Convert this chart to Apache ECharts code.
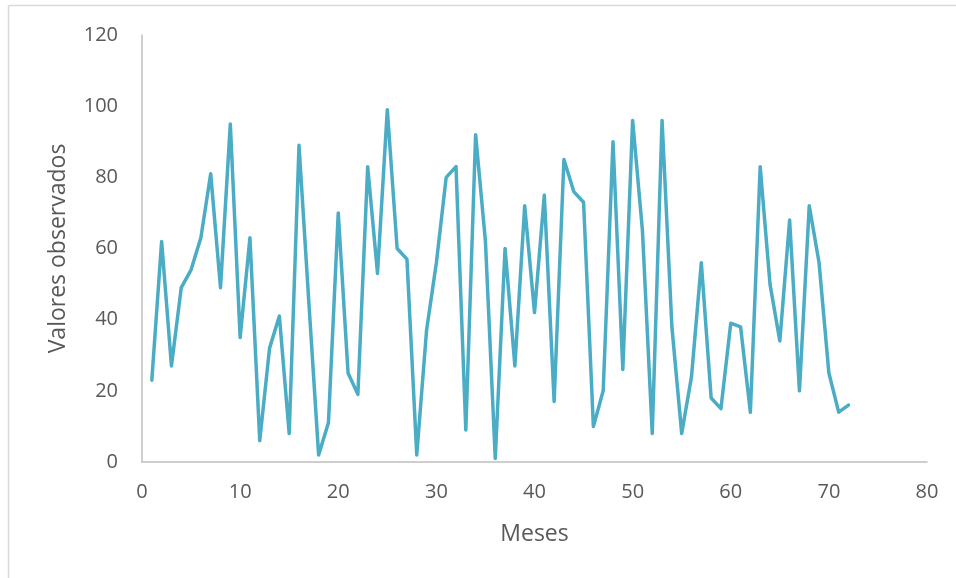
<!DOCTYPE html>
<html>
<head>
<meta charset="utf-8">
<script src="https://cdn.jsdelivr.net/npm/echarts@6/dist/echarts.min.js"></script>
<style>html,body{margin:0;padding:0;background:#fff}#c{width:956px;height:578px}</style>
</head>
<body>
<div id="c"></div>
<script>
var months = [1,2,3,4,5,6,7,8,9,10,11,12,13,14,15,16,17,18,19,20,21,22,23,24,25,26,27,28,29,30,31,32,33,34,35,36,37,38,39,40,41,42,43,44,45,46,47,48,49,50,51,52,53,54,55,56,57,58,59,60,61,62,63,64,65,66,67,68,69,70,71,72];
var values = [23,62,27,49,54,63,81,49,95,35,63,6,32,41,8,89,45,2,11,70,25,19,83,53,99,60,57,2,37,56,80,83,9,92,62,1,60,27,72,42,75,17,85,76,73,10,20,90,26,96,65,8,96,38,8,24,56,18,15,39,38,14,83,50,34,68,20,72,56,25,14,16];
var xTitle = 'Meses';
var yTitle = 'Valores observados';

var data = months.map(function(m, i){ return [m, values[i]]; });
var chart = echarts.init(document.getElementById('c'), null, {renderer: 'canvas'});
var font = '"Open Sans", sans-serif';
chart.setOption({
  animation: false,
  backgroundColor: '#fff',
  grid: {left: 142, right: 29, top: 35, bottom: 116},
  xAxis: {
    type: 'value', min: 0, max: 80, interval: 10,
    name: xTitle, nameLocation: 'middle', nameGap: 61,
    nameTextStyle: {fontFamily: font, fontSize: 23, color: '#595959'},
    axisLine: {show: true, lineStyle: {color: '#bfbfbf', width: 1.5}},
    axisTick: {show: false},
    splitLine: {show: false},
    axisLabel: {fontFamily: font, fontSize: 20, color: '#595959', margin: 20}
  },
  yAxis: {
    type: 'value', min: 0, max: 120, interval: 20,
    name: yTitle, nameLocation: 'middle', nameGap: 72,
    nameTextStyle: {fontFamily: font, fontSize: 23, color: '#595959'},
    axisLine: {show: true, lineStyle: {color: '#bfbfbf', width: 1.5}},
    axisTick: {show: false},
    splitLine: {show: false},
    axisLabel: {fontFamily: font, fontSize: 20, color: '#595959', margin: 24}
  },
  graphic: [
    {type: 'line', shape: {x1: 8.5, y1: 5.5, x2: 8.5, y2: 578}, style: {stroke: '#d9d9d9', lineWidth: 1.5}},
    {type: 'line', shape: {x1: 8.5, y1: 5.5, x2: 956, y2: 5.5}, style: {stroke: '#d9d9d9', lineWidth: 1.5}}
  ],
  series: [{
    type: 'line', data: data, showSymbol: false, symbol: 'none',
    lineStyle: {color: '#4bacc6', width: 3.5, join: 'round', cap: 'round'},
    itemStyle: {color: '#4bacc6'}
  }]
});
</script>
</body>
</html>
